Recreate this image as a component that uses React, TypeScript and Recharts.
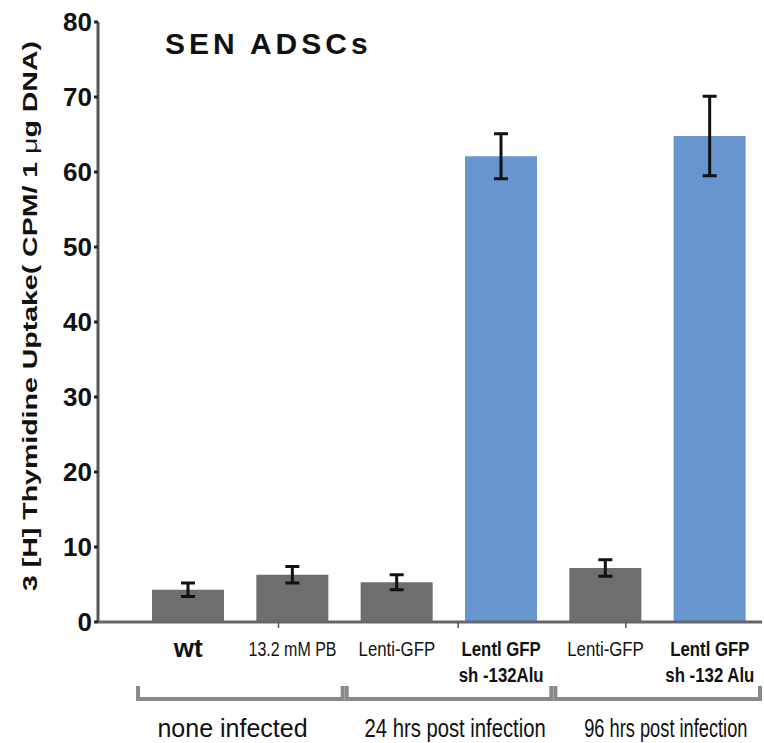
import { BarChart, Bar, XAxis, YAxis, ErrorBar, Cell } from 'recharts';

const categories = ['wt', '13.2 mM PB', 'Lenti-GFP', 'Lentl  GFP|sh -132Alu', 'Lenti-GFP', 'Lentl GFP|sh -132 Alu'];
const uptake = [4.3, 6.3, 5.3, 62.1, 7.2, 64.8];
const uptakeErr = [0.9, 1.1, 1.0, 3.0, 1.1, 5.3];
const shRNA = [false, false, false, true, false, true];
const groups = ['none infected', '24 hrs post infection', '96 hrs post infection'];
const yTicks = [0, 10, 20, 30, 40, 50, 60, 70, 80];

// horizontal squeeze to mimic the condensed font of the original
const labelScale = 0.8;
const groupScale = [1.0, 0.81, 0.73];
// horizontal placement tweaks (px) relative to the last tick of each group
const groupShift = [-60, -46, -44];
const markShift = [0, -14, 0, -43, 0, -84];

const data = categories.map((label, i) => ({ id: i, label, value: uptake[i], err: uptakeErr[i] }));

const GRAY = '#6e6e6e';
const BLUE = '#6895cf';
const FONT = 'Arial, sans-serif';
const BAND = 104.3;

function XTick(props: any) {
  const { x, y, payload, index } = props;
  const label: string = categories[payload.value] ?? '';
  const lines = label.split('|');
  const bold = shRNA[index];
  let text;
  if (index === 0) {
    text = (
      <text x={x} y={y + 27} textAnchor="middle" fontFamily={FONT} fontWeight="bold" fontSize={26} fill="#111">
        {label}
      </text>
    );
  } else {
    text = (
      <g transform={`translate(${x},${y}) scale(${labelScale},1)`}>
        {lines.map((l, k) => (
          <text
            key={k}
            x={0}
            y={26 + k * 26}
            textAnchor="middle"
            fontFamily={FONT}
            fontWeight={bold ? 'bold' : 'normal'}
            fontSize={index === 1 ? 20 : 21}
            fill="#111"
          >
            {l}
          </text>
        ))}
      </g>
    );
  }
  let bracket = null;
  if (index % 2 === 1) {
    const g = (index - 1) / 2;
    const x0 = x - 1.5 * BAND + 2;
    const x1 = Math.min(x + 0.5 * BAND - 2, 764);
    const by = y + 69;
    const mx = x + markShift[index];
    bracket = (
      <g>
        <line x1={mx} y1={y - 8} x2={mx} y2={y - 2} stroke="#555" strokeWidth={1.5} />
        <path d={`M${x0},${by - 13} L${x0},${by} L${x1},${by} L${x1},${by - 13}`} fill="none" stroke="#8a8a8a" strokeWidth={4} />
        <g transform={`translate(${x + groupShift[g]},${y + 107}) scale(${groupScale[g]},1)`}>
          <text x={0} y={0} textAnchor="middle" fontFamily={FONT} fontSize={25} fill="#111">
            {groups[g]}
          </text>
        </g>
      </g>
    );
  }
  return (
    <g>
      {text}
      {bracket}
    </g>
  );
}

export default function App() {
  return (
    <div style={{ position: 'absolute', left: 0, top: 0, width: 764, height: 743, background: '#fff' }}>
      <div style={{ position: 'absolute', left: 165, top: 27, fontFamily: FONT, fontWeight: 'bold', fontSize: 30, letterSpacing: 4, color: '#111', zIndex: 2 }}>
        SEN ADSCs
      </div>
      <BarChart width={764} height={743} data={data} margin={{ top: 22, right: 2, bottom: 0, left: 0 }} barSize={72}>
        <XAxis
          dataKey="id"
          type="category"
          height={121}
          padding={{ left: 38, right: 0 }}
          axisLine={{ stroke: '#666', strokeWidth: 3 }}
          tickLine={false}
          tick={<XTick />}
          interval={0}
        />
        <YAxis
          domain={[0, 80]}
          ticks={yTicks}
          width={98}
          axisLine={{ stroke: '#555', strokeWidth: 3 }}
          tickLine={{ stroke: '#222', strokeWidth: 3 }}
          tickSize={4}
          tick={{ fill: '#111', fontSize: 26, fontWeight: 'bold', fontFamily: FONT }}
          label={{
            content: () => (
              <text
                x={37}
                y={316}
                transform="rotate(-90 37 316)"
                textAnchor="middle"
                fontFamily={FONT}
                fontWeight="bold"
                fontSize={21}
                fill="#111"
                textLength={550}
                lengthAdjust="spacingAndGlyphs"
              >
                3 [H] Thymidine Uptake( CPM/ 1 <tspan fontWeight="normal">μ</tspan>g DNA)
              </text>
            ),
          }}
        />
        <Bar dataKey="value" isAnimationActive={false}>
          {data.map((d, i) => (
            <Cell key={d.id} fill={shRNA[i] ? BLUE : GRAY} />
          ))}
          <ErrorBar dataKey="err" stroke="#111" strokeWidth={3} width={7} />
        </Bar>
      </BarChart>
    </div>
  );
}
